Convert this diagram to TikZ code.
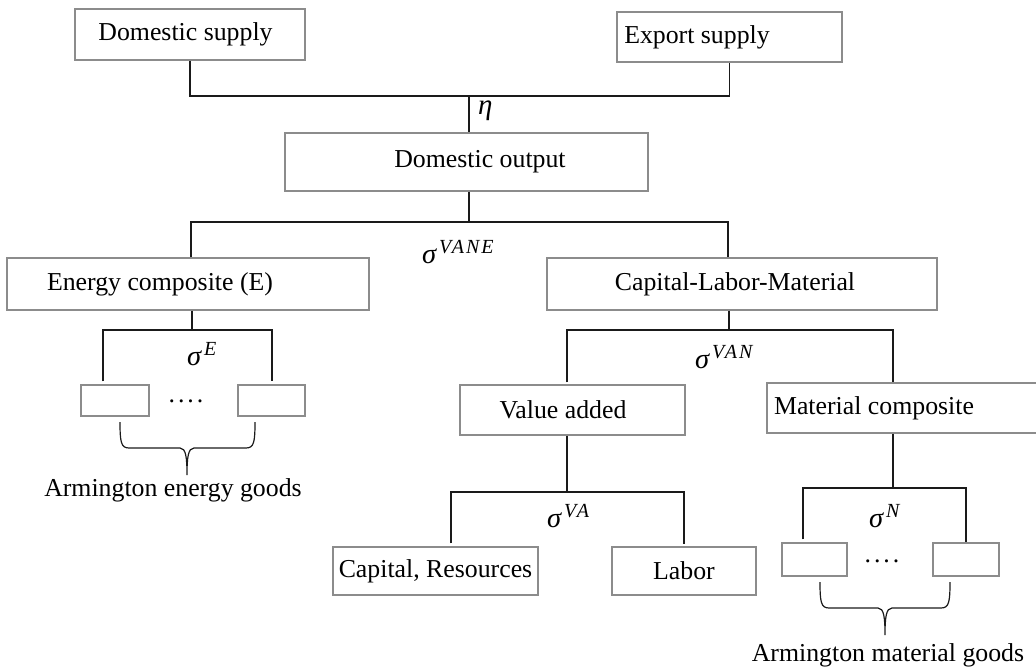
\documentclass[tikz,border=0pt]{standalone}
\usepackage{fontspec}
\setmainfont{Liberation Serif}
\definecolor{boxgray}{HTML}{8C8C8C}
\definecolor{linkblack}{HTML}{1A1A1A}
\newcommand\elasl[2]{{\fontsize{28.5}{30}\selectfont\textit{#1}}\hspace{2pt}\raisebox{0.38em}{\fontsize{20}{22}\selectfont\itshape\addfontfeature{LetterSpace=10}#2}}
\begin{document}
\begin{tikzpicture}[x=1pt,y=-1pt,
  font=\fontsize{25.8}{30}\selectfont,
  box/.style={draw=boxgray, line width=1.2pt, inner sep=0pt},
  link/.style={draw=linkblack, line width=1.2pt},
  lbl/.style={inner sep=0pt}]
\useasboundingbox (0,0) rectangle (1036,671);

% boxes
\node[box, minimum width=230pt, minimum height=51pt] (ds) at (190,34.5) {Domestic supply\hspace*{9pt}};
\node[box, minimum width=225pt, minimum height=50pt] (es) at (729.5,37) {Export supply\hspace*{65pt}};
\node[box, minimum width=363pt, minimum height=58pt] (do) at (466.5,162) {\hspace*{27pt}Domestic output};
\node[box, minimum width=362pt, minimum height=52pt] (ec) at (188,284) {Energy composite (E)\hspace*{56pt}};
\node[box, minimum width=390pt, minimum height=52pt] (clm) at (742,284) {Capital-Labor-Material\hspace*{14pt}};
\node[box, minimum width=225pt, minimum height=50pt] (va) at (572.5,410) {Value added\hspace*{19pt}};
\node[box, minimum width=271pt, minimum height=50pt] (mc) at (902.5,408) {Material composite\hspace*{57pt}};
\node[box, minimum width=205pt, minimum height=48pt] (cr) at (435.5,571) {Capital, Resources};
\node[box, minimum width=144pt, minimum height=48pt] (lab) at (684,571) {Labor};
\node[box, minimum width=68pt, minimum height=31pt] (e1) at (115,400.5) {};
\node[box, minimum width=67pt, minimum height=31pt] (e2) at (271.5,400.5) {};
\node[box, minimum width=65pt, minimum height=33pt] (m1) at (814.5,559.5) {};
\node[box, minimum width=66pt, minimum height=33pt] (m2) at (966,559.5) {};

% dots
\node[lbl, anchor=base] (edots) at (186,402) {.\hspace{3pt}.\hspace{3pt}.\hspace{3pt}.};
\node[lbl, anchor=base] (mdots) at (882,562) {.\hspace{3pt}.\hspace{3pt}.\hspace{3pt}.};

% elasticities
\node[lbl, anchor=base west] (eta) at (478,115) {\fontsize{29}{30}\selectfont\textit{η}};
\node[lbl, anchor=base west] (svane) at (422,263) {\elasl{σ}{VANE}};
\node[lbl, anchor=base west] (se) at (187,365) {\elasl{σ}{E}};
\node[lbl, anchor=base west] (svan) at (695,368) {\elasl{σ}{VAN}};
\node[lbl, anchor=base west] (sva) at (547,527) {\elasl{σ}{VA}};
\node[lbl, anchor=base west] (sn) at (869,527) {\elasl{σ}{N}};

% group labels
\node[lbl] (aeg) at (173,490) {Armington energy goods};
\node[lbl] (amg) at (888,655) {Armington material goods};

% junctions
\coordinate (t1) at (469,96);
\coordinate (t2) at (469,222);
\coordinate (t2l) at (191,222);
\coordinate (t2r) at (728,222);
\coordinate (t3) at (192,330);
\coordinate (t3l) at (103,330);
\coordinate (t3r) at (272,330);
\coordinate (t4) at (729,330);
\coordinate (t4l) at (567,330);
\coordinate (t4r) at (893,330);
\coordinate (t5) at (567,492);
\coordinate (t5l) at (451,492);
\coordinate (t5r) at (684,492);
\coordinate (t6) at (893,488);
\coordinate (t6l) at (803,488);
\coordinate (t6r) at (966,488);

% connectors
\draw[link] (ds.south) |- (t1) -| (es.south);
\draw[link] (t1) -- (t1 |- do.north);
\draw[link] (t2 |- do.south) -- (t2);
\draw[link] (t2l |- ec.north) -- (t2l) -- (t2r) -- (t2r |- clm.north);

\draw[link] (t3 |- ec.south) -- (t3);
\draw[link, shorten <=3pt, shorten >=3pt] (t3l |- e1.north) -- (t3l) -- (t3r) -- (t3r |- e2.north);

\draw[link] (t4 |- clm.south) -- (t4);
\draw[link, shorten <=2pt] (t4l |- va.north) -- (t4l) -- (t4r) -- (t4r |- mc.north);

\draw[link] (t5 |- va.south) -- (t5);
\draw[link, shorten <=3pt, shorten >=2pt] (t5l |- cr.north) -- (t5l) -- (t5r) -- (t5r |- lab.north);

\draw[link] (t6 |- mc.south) -- (t6);
\draw[link, shorten <=3pt] (t6l |- m1.north) -- (t6l) -- (t6r) -- (t6r |- m2.north);

% braces
\draw[link] (120,422) .. controls (120,442) and (121,448) .. (129,448) -- (180,448)
  .. controls (186,448) and (187,458) .. (187,475)
  .. controls (187,458) and (188,448) .. (194,448) -- (246,448)
  .. controls (254,448) and (255,442) .. (255,422);
\draw[link] (820,582) .. controls (820,602) and (821,608) .. (829,608) -- (878,608)
  .. controls (884,608) and (885,618) .. (885,635)
  .. controls (885,618) and (886,608) .. (892,608) -- (941,608)
  .. controls (949,608) and (950,602) .. (950,582);
\end{tikzpicture}
\end{document}
